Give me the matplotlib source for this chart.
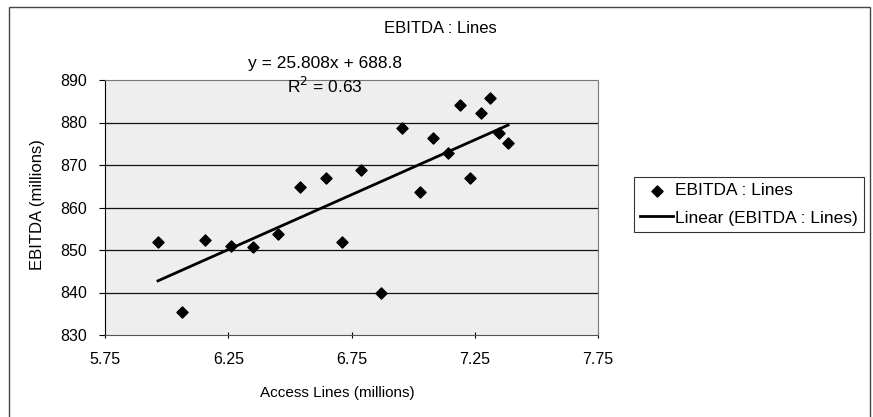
import matplotlib
matplotlib.use("Agg")
import matplotlib.pyplot as plt
from matplotlib.patches import Rectangle
import numpy as np

plt.rcParams['font.family'] = ['Liberation Sans', 'DejaVu Sans']

access_lines = [5.965, 6.062, 6.156, 6.261, 6.350, 6.452, 6.541, 6.647, 6.711, 6.789,
                6.870, 6.953, 7.028, 7.080, 7.141, 7.190, 7.230, 7.275, 7.312, 7.350, 7.385]
ebitda = [851.9, 835.4, 852.4, 850.9, 850.7, 853.8, 864.8, 867.0, 851.9, 868.8,
          839.9, 878.7, 863.6, 876.4, 872.8, 884.1, 867.0, 882.2, 885.8, 877.5, 875.2]
slope = 25.808
intercept = 688.8
r_squared = 0.63
x_ticks = [5.75, 6.25, 6.75, 7.25, 7.75]
y_ticks = [830, 840, 850, 860, 870, 880, 890]

W, H = 873, 417
fig = plt.figure(figsize=(W / 100, H / 100), dpi=100)
ax = fig.add_axes([105 / W, 1 - 335 / H, (598 - 105) / W, (335 - 80) / H])
ax.set_facecolor('#eeeeee')

# outer chart border
fig.patches.append(Rectangle((9 / W, -0.05), (870 - 9) / W, 1.05 - 7 / H,
                             transform=fig.transFigure, fill=False,
                             edgecolor='#444444', linewidth=1.0))

for y in y_ticks[1:-1]:
    ax.axhline(y, color='#111111', linewidth=0.9, zorder=1)

ax.scatter(access_lines, ebitda, marker='D', s=32, color='black', zorder=3,
           label='EBITDA : Lines')
xfit = np.array([min(access_lines), max(access_lines)])
ax.plot(xfit, slope * xfit + intercept, color='black', linewidth=2.0, zorder=2,
        label='Linear (EBITDA : Lines)')

ax.set_xlim(5.75, 7.75)
ax.set_ylim(830, 890)
ax.set_xticks(x_ticks)
ax.set_xticklabels([f'{v:.2f}' for v in x_ticks])
ax.set_yticks(y_ticks)
ax.tick_params(axis='both', labelsize=11.5, length=4, width=0.8)
ax.tick_params(axis='y', direction='out', pad=9)
ax.tick_params(axis='x', direction='inout', pad=10)

for side in ['top', 'right']:
    ax.spines[side].set_color('#777777')
    ax.spines[side].set_linestyle((0, (1, 1)))
ax.spines['left'].set_color('black')
ax.spines['bottom'].set_color('#555555')
ax.spines['bottom'].set_linestyle((0, (1, 1)))

fig.text(337 / W, 1 - 397 / H, 'Access Lines (millions)', ha='center', va='baseline', fontsize=11)
fig.text(38 / W, 1 - 205 / H, 'EBITDA (millions)', ha='center', va='center',
         rotation=90, fontsize=12)

fig.text(440 / W, 1 - 33 / H, 'EBITDA : Lines', ha='center', va='baseline', fontsize=12)
fig.text(325 / W, 1 - 68 / H, f'y = {slope}x + {intercept}', ha='center', va='baseline', fontsize=12.5)
fig.text(325 / W, 1 - 93 / H, f'R$^2$ = {r_squared}', ha='center', va='baseline', fontsize=12.5)

leg = fig.legend(*ax.get_legend_handles_labels(), loc='upper left',
                 bbox_to_anchor=(634 / W, 1 - 177 / H), bbox_transform=fig.transFigure,
                 frameon=True, fancybox=False, edgecolor='black', fontsize=12.5,
                 handlelength=1.9, handletextpad=0.1, borderpad=0.35, labelspacing=0.7,
                 borderaxespad=0)
leg.get_frame().set_linewidth(0.8)

fig.savefig('out.png', dpi=100)
